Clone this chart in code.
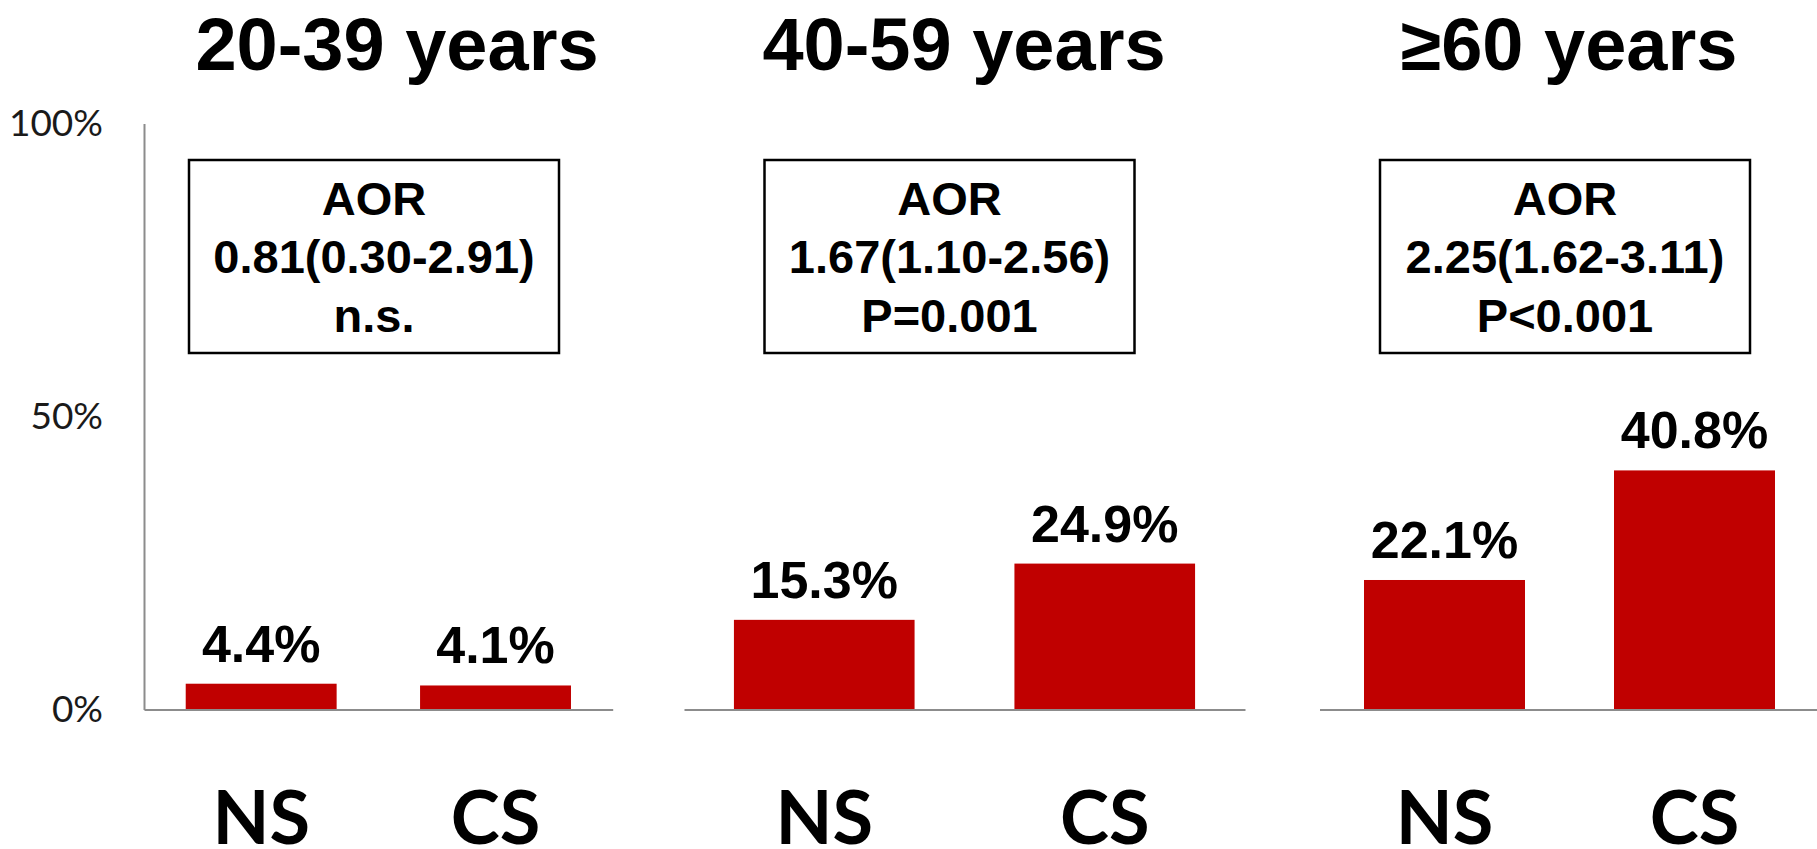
<!DOCTYPE html>
<html>
<head>
<meta charset="utf-8">
<script src="https://cdn.jsdelivr.net/npm/d3@7"></script>
<style>
  body { margin: 0; background: #fff; }
  .container { width: 1817px; height: 849px; overflow: hidden; }
</style>
</head>
<body>
<div class="container"></div>
<script>
//Chart values
const ageGroups = ["20-39 years", "40-59 years", "≥60 years"];
const smokers = ["NS", "CS"];
const valuesNS = [4.4, 15.3, 22.1];
const valuesCS = [4.1, 24.9, 40.8];
const aorTitle = ["AOR", "AOR", "AOR"];
const aorValues = ["0.81(0.30-2.91)", "1.67(1.10-2.56)", "2.25(1.62-3.11)"];
const pValues = ["n.s.", "P=0.001", "P<0.001"];
const yTicks = [0, 50, 100];

const w = 1817,
  h = 849;
const baseY = 709.5;

//Panel placement
const panels = [
  { x0: 144, x1: 612.7, titleX: 397, boxX: 374 },
  { x0: 684, x1: 1245, titleX: 964, boxX: 949.5 },
  { x0: 1319.5, x1: 1819.5, titleX: 1569, boxX: 1565 }
];

const svg = d3
  .select(".container")
  .append("svg")
  .attr("width", w)
  .attr("height", h)
  .style("background", "#fff");

const yScale = d3
  .scaleLinear()
  .domain([0, 100])
  .range([baseY, baseY - 586]);

//Y axis
const yAxis = d3
  .axisLeft(yScale)
  .tickValues(yTicks)
  .tickFormat(d => d + "%")
  .tickSize(0)
  .tickPadding(41);

const yAxisGroup = svg
  .append("g")
  .attr("id", "y-axis")
  .attr("transform", `translate(${panels[0].x0},0)`)
  .call(yAxis);
yAxisGroup
  .select(".domain")
  .attr("stroke", "#8c8c8c")
  .attr("stroke-width", 2);
yAxisGroup
  .selectAll("text")
  .attr("font-family", "Lato, sans-serif")
  .attr("font-size", 37)
  .attr("fill", "#1a1a1a");

ageGroups.forEach((group, i) => {
  const p = panels[i];
  const values = [valuesNS[i], valuesCS[i]];

  const xScale = d3
    .scaleBand()
    .domain(smokers)
    .range([p.x0, p.x1])
    .paddingInner(0.356)
    .paddingOuter(0.178);

  //Panel title
  svg
    .append("text")
    .attr("x", p.titleX)
    .attr("y", 70)
    .attr("text-anchor", "middle")
    .attr("font-family", "Liberation Sans, Arial, sans-serif")
    .attr("font-weight", "bold")
    .attr("font-size", 74)
    .text(group);

  //AOR box
  svg
    .append("rect")
    .attr("x", p.boxX - 185)
    .attr("y", 160)
    .attr("width", 370)
    .attr("height", 193)
    .attr("fill", "none")
    .attr("stroke", "#000")
    .attr("stroke-width", 2.5);

  const boxText = svg
    .append("text")
    .attr("text-anchor", "middle")
    .attr("font-family", "Liberation Sans, Arial, sans-serif")
    .attr("font-weight", "bold")
    .attr("font-size", 47);
  [aorTitle[i], aorValues[i], pValues[i]].forEach((line, j) => {
    boxText
      .append("tspan")
      .attr("x", p.boxX)
      .attr("y", 215 + j * 58.3)
      .text(line);
  });

  //Bars
  svg
    .append("g")
    .selectAll("rect")
    .data(values)
    .enter()
    .append("rect")
    .attr("class", "bar")
    .attr("x", (d, j) => xScale(smokers[j]))
    .attr("y", d => yScale(d))
    .attr("width", xScale.bandwidth())
    .attr("height", d => baseY - yScale(d))
    .attr("fill", "#c00000");

  //Value labels
  svg
    .append("g")
    .selectAll("text")
    .data(values)
    .enter()
    .append("text")
    .attr("x", (d, j) => xScale(smokers[j]) + xScale.bandwidth() / 2)
    .attr("y", d => yScale(d) - 22)
    .attr("text-anchor", "middle")
    .attr("font-family", "Liberation Sans, Arial, sans-serif")
    .attr("font-weight", "bold")
    .attr("font-size", 52)
    .text(d => d.toFixed(1) + "%");

  //X axis
  const xAxisGroup = svg
    .append("g")
    .attr("class", "x-axis")
    .attr("transform", `translate(0,${baseY})`)
    .call(
      d3
        .axisBottom(xScale)
        .tickSize(0)
        .tickPadding(82)
    );
  xAxisGroup
    .select(".domain")
    .attr("stroke", "#8c8c8c")
    .attr("stroke-width", 2);
  xAxisGroup
    .selectAll("text")
    .attr("font-family", "Lato, sans-serif")
    .attr("font-weight", "bold")
    .attr("font-size", 74)
    .attr("fill", "#000");
});
</script>
</body>
</html>
